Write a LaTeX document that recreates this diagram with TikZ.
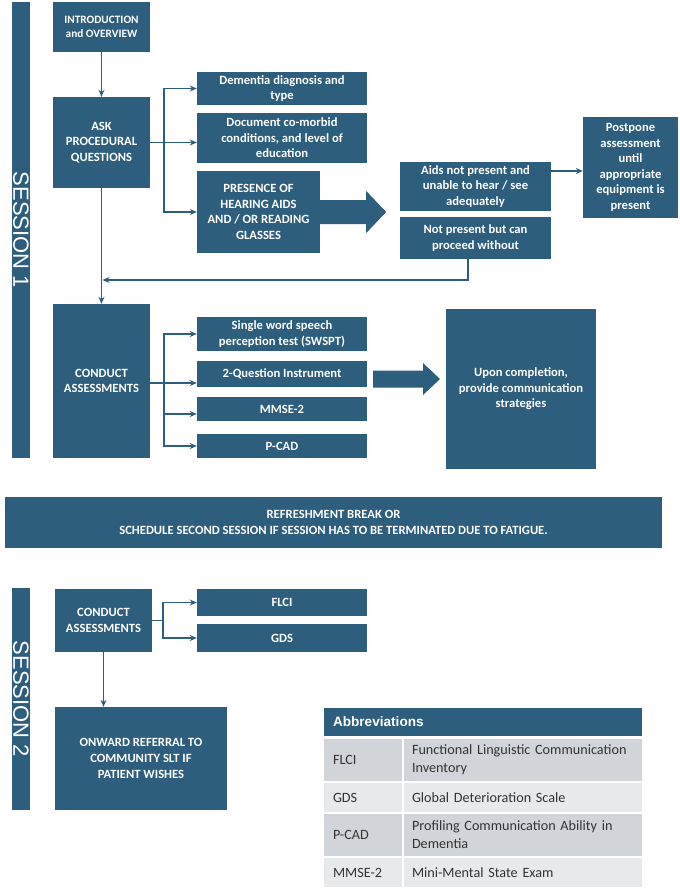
\documentclass[tikz,border=0pt]{standalone}
\usepackage{fontspec}
\setmainfont{Carlito}
\newfontfamily\headfont{Liberation Sans}
\usetikzlibrary{arrows.meta,calc}
\definecolor{sessblue}{RGB}{46,94,126}
\definecolor{rowdark}{RGB}{209,213,217}
\definecolor{rowlight}{RGB}{231,233,235}
\tikzset{
	blk/.style={fill=sessblue, text=white, inner sep=0pt, align=center, font=\bfseries\fontsize{12.6}{15.6}\selectfont},
	sessbar/.style={fill=sessblue, text=white, inner sep=0pt, rotate=-90, font=\headfont\fontsize{22}{22}\selectfont},
	link/.style={draw=sessblue, line width=1.4pt, -{Stealth[length=7pt,width=6pt]}},
	wire/.style={draw=sessblue, line width=1.4pt},
	cellL/.style={inner xsep=9pt, inner ysep=0pt, text width=60pt, align=left, text=black!80, font=\fontsize{14.2}{18}\selectfont},
	cellR/.style={inner xsep=8pt, inner ysep=0pt, text width=222pt, align=left, text=black!80, font=\fontsize{14.2}{18}\selectfont},
}

\begin{document}
\begin{tikzpicture}[x=1pt, y=-1pt]
			%%%%% START %%%%%
			
			\useasboundingbox (0, 0) rectangle (680, 889);
			
			\node[sessbar, minimum width=456pt, minimum height=18pt] (sess1) at (21, 230) {SESSION 1};
			\node[sessbar, minimum width=222pt, minimum height=18pt] (sess2) at (21, 699) {SESSION 2};
			
			\node[blk, minimum width=97pt, minimum height=50pt, font=\bfseries\fontsize{11.3}{13.8}\selectfont] (intro) at (101.5, 27) {INTRODUCTION\\and OVERVIEW};
			\node[blk, minimum width=97pt, minimum height=91pt] (ask) at (101.5, 142.5) {ASK\\PROCEDURAL\\QUESTIONS};
			
			\node[blk, minimum width=170pt, minimum height=33pt] (dem) at (282, 88.5) {Dementia diagnosis and\\type};
			\node[blk, minimum width=170pt, minimum height=50pt] (doc) at (282, 138) {Document co-morbid\\conditions, and level of\\education};
			\node[blk, minimum width=123pt, minimum height=82pt] (pres) at (258.5, 212) {PRESENCE OF\\HEARING AIDS\\AND / OR READING\\GLASSES};
			
			\node[blk, minimum width=151pt, minimum height=49pt] (aids) at (475.5, 186.5) {Aids not present and\\unable to hear / see\\adequately};
			\node[blk, minimum width=151pt, minimum height=42pt] (notp) at (475.5, 238) {Not present but can\\proceed without};
			\node[blk, minimum width=95pt, minimum height=101pt] (post) at (630.5, 167.5) {Postpone\\assessment\\until\\appropriate\\equipment is\\present};
			
			\node[blk, minimum width=97pt, minimum height=154pt] (cond1) at (101.5, 381) {CONDUCT\\ASSESSMENTS};
			\node[blk, minimum width=170pt, minimum height=34pt] (swspt) at (282, 334) {Single word speech\\perception test (SWSPT)};
			\node[blk, minimum width=170pt, minimum height=26pt] (twoq) at (282, 374) {2-Question Instrument};
			\node[blk, minimum width=170pt, minimum height=24pt] (mmse) at (282, 409) {MMSE-2};
			\node[blk, minimum width=170pt, minimum height=24pt] (pcad) at (282, 446) {P-CAD};
			\node[blk, minimum width=150pt, minimum height=160pt] (upon) at (521, 389) {Upon completion,\\provide communication\\strategies};
			
			\node[blk, minimum width=657pt, minimum height=51pt] (brk) at (333.5, 522.5) {REFRESHMENT BREAK OR\\SCHEDULE SECOND SESSION IF SESSION HAS TO BE TERMINATED DUE TO FATIGUE.};
			
			\node[blk, minimum width=97pt, minimum height=63pt] (cond2) at (103.5, 620.5) {CONDUCT\\ASSESSMENTS};
			\node[blk, minimum width=170pt, minimum height=27pt] (flci) at (282, 602.5) {FLCI};
			\node[blk, minimum width=170pt, minimum height=28pt] (gds) at (282, 638) {GDS};
			\node[blk, minimum width=172pt, minimum height=103pt] (onward) at (141, 758.5) {ONWARD REFERRAL TO\\COMMUNITY SLT IF\\PATIENT WISHES};
			
			% session 1 links
			\draw[link] (intro) -- (ask);
			\coordinate (fork1) at (164, 142.5);
			\draw[wire] (ask.east) -- (fork1);
			\draw[link] (fork1) -- (fork1 -| doc.west);
			\draw[link] (fork1) |- (dem.west);
			\draw[link] (fork1) |- (pres.west);
			
			\fill[sessblue] (pres.east) ++(0, -12) -- ++(46, 0) -- ++(0, -9) -- ++(20, 21) -- ++(-20, 21) -- ++(0, -9) -- ++(-46, 0) -- cycle;
			
			\coordinate (hop) at (551, 171);
			\draw[link] (hop) -- (hop -| post.west);
			
			\coordinate (ret) at (468, 280);
			\draw[link] (ret |- notp.south) -- (ret) -- ($(ask.south |- ret)+(1,0)$);
			\draw[link] (ask) -- (cond1);
			
			\coordinate (fork2) at (164, 383);
			\draw[wire] (cond1.east |- fork2) -- (fork2);
			\draw[link] (fork2) -- (fork2 -| twoq.west);
			\draw[link] (fork2) |- (swspt.west);
			\draw[link] (fork2) |- ($(mmse.west)+(0, 5)$);
			\draw[link] (fork2) |- (pcad.west);
			
			\coordinate (tail2) at (373, 379);
			\fill[sessblue] (tail2) ++(0, -8.5) -- ++(50, 0) -- ++(0, -7.5) -- ++(17, 16) -- ++(-17, 16) -- ++(0, -7.5) -- ++(-50, 0) -- cycle;
			
			% session 2 links
			\coordinate (fork3) at (163, 620.5);
			\draw[wire] (cond2.east) -- (fork3);
			\draw[link] (fork3) |- (flci.west);
			\draw[link] (fork3) |- (gds.west);
			\draw[link] (cond2) -- (cond2 |- onward.north);
			
			% abbreviations table
			\node[fill=sessblue, text=white, inner xsep=9pt, inner ysep=0pt, text width=300pt, minimum height=28pt, align=left, font=\headfont\bfseries\fontsize{13.6}{13.6}\selectfont] (abbr) at (483, 722) {Abbreviations};
			
			\node[cellL, fill=rowdark, minimum height=42pt] (k1) at (363, 760) {FLCI};
			\node[cellR, fill=rowdark, minimum height=42pt] (v1) at (523, 760) {Functional Linguistic Communication\\Inventory};
			\node[cellL, fill=rowlight, minimum height=29pt] (k2) at (363, 797.5) {GDS};
			\node[cellR, fill=rowlight, minimum height=29pt] (v2) at (523, 797.5) {Global Deterioration Scale};
			\node[cellL, fill=rowdark, minimum height=42pt] (k3) at (363, 835) {P-CAD};
			\node[cellR, fill=rowdark, minimum height=42pt] (v3) at (523, 835) {Profiling Communication Ability in\\Dementia};
			\node[cellL, fill=rowlight, minimum height=29pt] (k4) at (363, 872.5) {MMSE-2};
			\node[cellR, fill=rowlight, minimum height=29pt] (v4) at (523, 872.5) {Mini-Mental State Exam};
			
			%%%%% END %%%%%
\end{tikzpicture}
\end{document}
